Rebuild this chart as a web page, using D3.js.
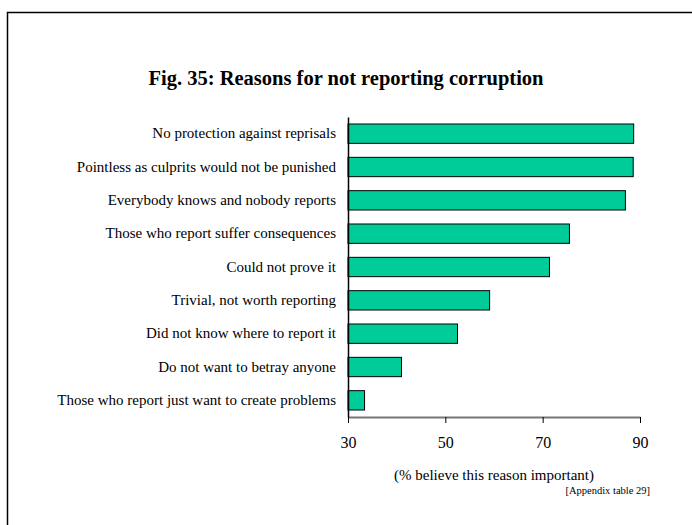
<!DOCTYPE html>
<html><head><meta charset="utf-8">
<script src="https://cdn.jsdelivr.net/npm/d3@7"></script>
<style>body{margin:0;background:#fff}svg{display:block}</style>
</head><body>
<svg id="c" width="692" height="525"></svg>
<script>
const categories = [
  "No protection against reprisals",
  "Pointless as culprits would not be punished",
  "Everybody knows and nobody reports",
  "Those who report suffer consequences",
  "Could not prove it",
  "Trivial, not worth reporting",
  "Did not know where to report it",
  "Do not want to betray anyone",
  "Those who report just want to create problems"
];
const values = [88.7, 88.6, 87.0, 75.5, 71.4, 59.1, 52.5, 41.0, 33.4];
const tickValues = [30, 50, 70, 90];
const title = "Fig. 35: Reasons for not reporting corruption";
const xTitle = "(% believe this reason important)";
const note = "[Appendix table 29]";

const svg = d3.select("#c");
const font = "'Liberation Serif','Times New Roman',serif";

svg.append("rect").attr("x", 7.5).attr("y", 12.5).attr("width", 700).attr("height", 520)
  .attr("fill", "none").attr("stroke", "#000").attr("stroke-width", 1.5);

svg.append("text").attr("x", 346).attr("y", 85).attr("text-anchor", "middle")
  .attr("font-family", font).attr("font-weight", "bold").attr("font-size", 20.5).text(title);

const x = d3.scaleLinear().domain([30, 90]).range([348, 640]);
const y = d3.scaleBand().domain(categories).range([117, 417]).paddingInner(0.42).paddingOuter(0.21);

svg.append("g").selectAll("rect").data(values).join("rect")
  .attr("x", x(30)).attr("y", (d, i) => y(categories[i]))
  .attr("width", d => x(d) - x(30)).attr("height", y.bandwidth())
  .attr("fill", "#00CC99").attr("stroke", "#000").attr("stroke-width", 1);

// x axis
const xa = svg.append("g").attr("transform", "translate(0,417)")
  .call(d3.axisBottom(x).tickValues(tickValues).tickSize(6).tickSizeOuter(0).tickPadding(14));
xa.select(".domain").attr("stroke", "#777").attr("stroke-width", 2);
xa.selectAll(".tick line").attr("stroke", "#000");
xa.selectAll("text").attr("font-family", font).attr("font-size", 16).attr("fill", "#000");

// y axis
const ya = svg.append("g").attr("transform", "translate(348,0)")
  .call(d3.axisLeft(y).tickSize(0).tickPadding(12));
ya.select(".domain").attr("stroke", "#000").attr("stroke-width", 1.5);
ya.selectAll("text").attr("font-family", font).attr("font-size", 15).attr("fill", "#000");

svg.append("text").attr("x", 494).attr("y", 480).attr("text-anchor", "middle")
  .attr("font-family", font).attr("font-size", 15).text(xTitle);
svg.append("text").attr("x", 650).attr("y", 494).attr("text-anchor", "end")
  .attr("font-family", font).attr("font-size", 10.5).text(note);
</script>
</body></html>
